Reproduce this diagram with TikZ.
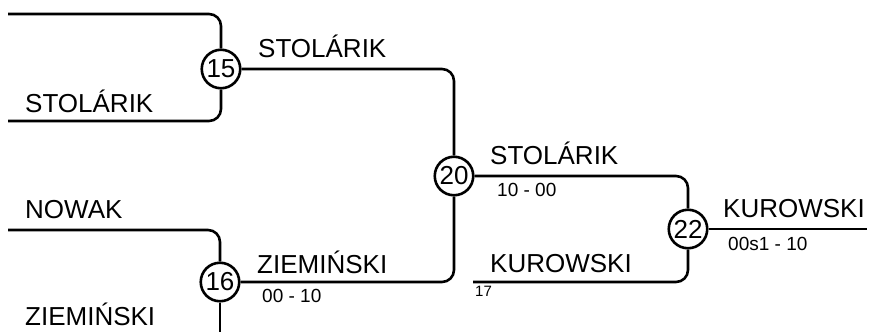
\documentclass[tikz,border=0pt]{standalone}
\usepackage{fontspec}
\setmainfont{Liberation Sans}
\begin{document}
\begin{tikzpicture}[x=1pt,y=-1pt,
  wire/.style={line width=2.6pt,rounded corners=12pt},
  seedball/.style={circle,draw,line width=2.6pt,minimum size=38.5pt,inner sep=0pt,font=\fontsize{26}{28}\selectfont},
  playerlbl/.style={anchor=base west,inner sep=0pt,font=\fontsize{26}{28}\selectfont},
  scorelbl/.style={anchor=base west,inner sep=0pt,font=\fontsize{19}{21}\selectfont},
  tinylbl/.style={anchor=base west,inner sep=0pt,font=\fontsize{15}{17}\selectfont}]
\useasboundingbox (0,0) rectangle (869,332);
% match nodes
\node[seedball] (c15) at (221,69) {15};
\node[seedball] (c16) at (220,282) {16};
\node[seedball] (c20) at (454,176) {20};
\node[seedball] (c22) at (688,229) {22};
% free ends
\coordinate (a1) at (8,14);
\coordinate (a2) at (8,121);
\coordinate (n1) at (8,230);
\coordinate (z1) at (220,332);
\coordinate (k1) at (473,282);
\coordinate (w1) at (867,229);
% connectors
\draw[wire] (a1) -- (c15.north |- a1) -- (c15.north);
\draw[wire] (a2) -- (c15.south |- a2) -- (c15.south);
\draw[wire] (n1) -- (c16.north |- n1) -- (c16.north);
\draw[wire] (c16.south) -- (z1);
\draw[wire] (c15.east) -- (c20.north |- c15.east) -- (c20.north);
\draw[wire] (c16.east) -- (c20.south |- c16.east) -- (c20.south);
\draw[wire] (c20.east) -- (c22.north |- c20.east) -- (c22.north);
\draw[wire] (k1) -- (c22.south |- k1) -- (c22.south);
\draw[wire] (c22.east) -- (w1);
% labels
\node[playerlbl] (t1) at (25,112) {STOLÁRIK};
\node[playerlbl] (t2) at (258,57) {STOLÁRIK};
\node[playerlbl] (t3) at (25,218) {NOWAK};
\node[playerlbl] (t4) at (257,273) {ZIEMIŃSKI};
\node[scorelbl] (s1) at (262,302) {00 - 10};
\node[playerlbl] (t5) at (25,325) {ZIEMIŃSKI};
\node[playerlbl] (t6) at (490,164) {STOLÁRIK};
\node[scorelbl] (s2) at (497,196) {10 - 00};
\node[playerlbl] (t7) at (723,217) {KUROWSKI};
\node[scorelbl] (s3) at (728,250) {00s1 - 10};
\node[playerlbl] (t8) at (490,272) {KUROWSKI};
\node[tinylbl] (s4) at (475,296) {17};
\end{tikzpicture}
\end{document}
